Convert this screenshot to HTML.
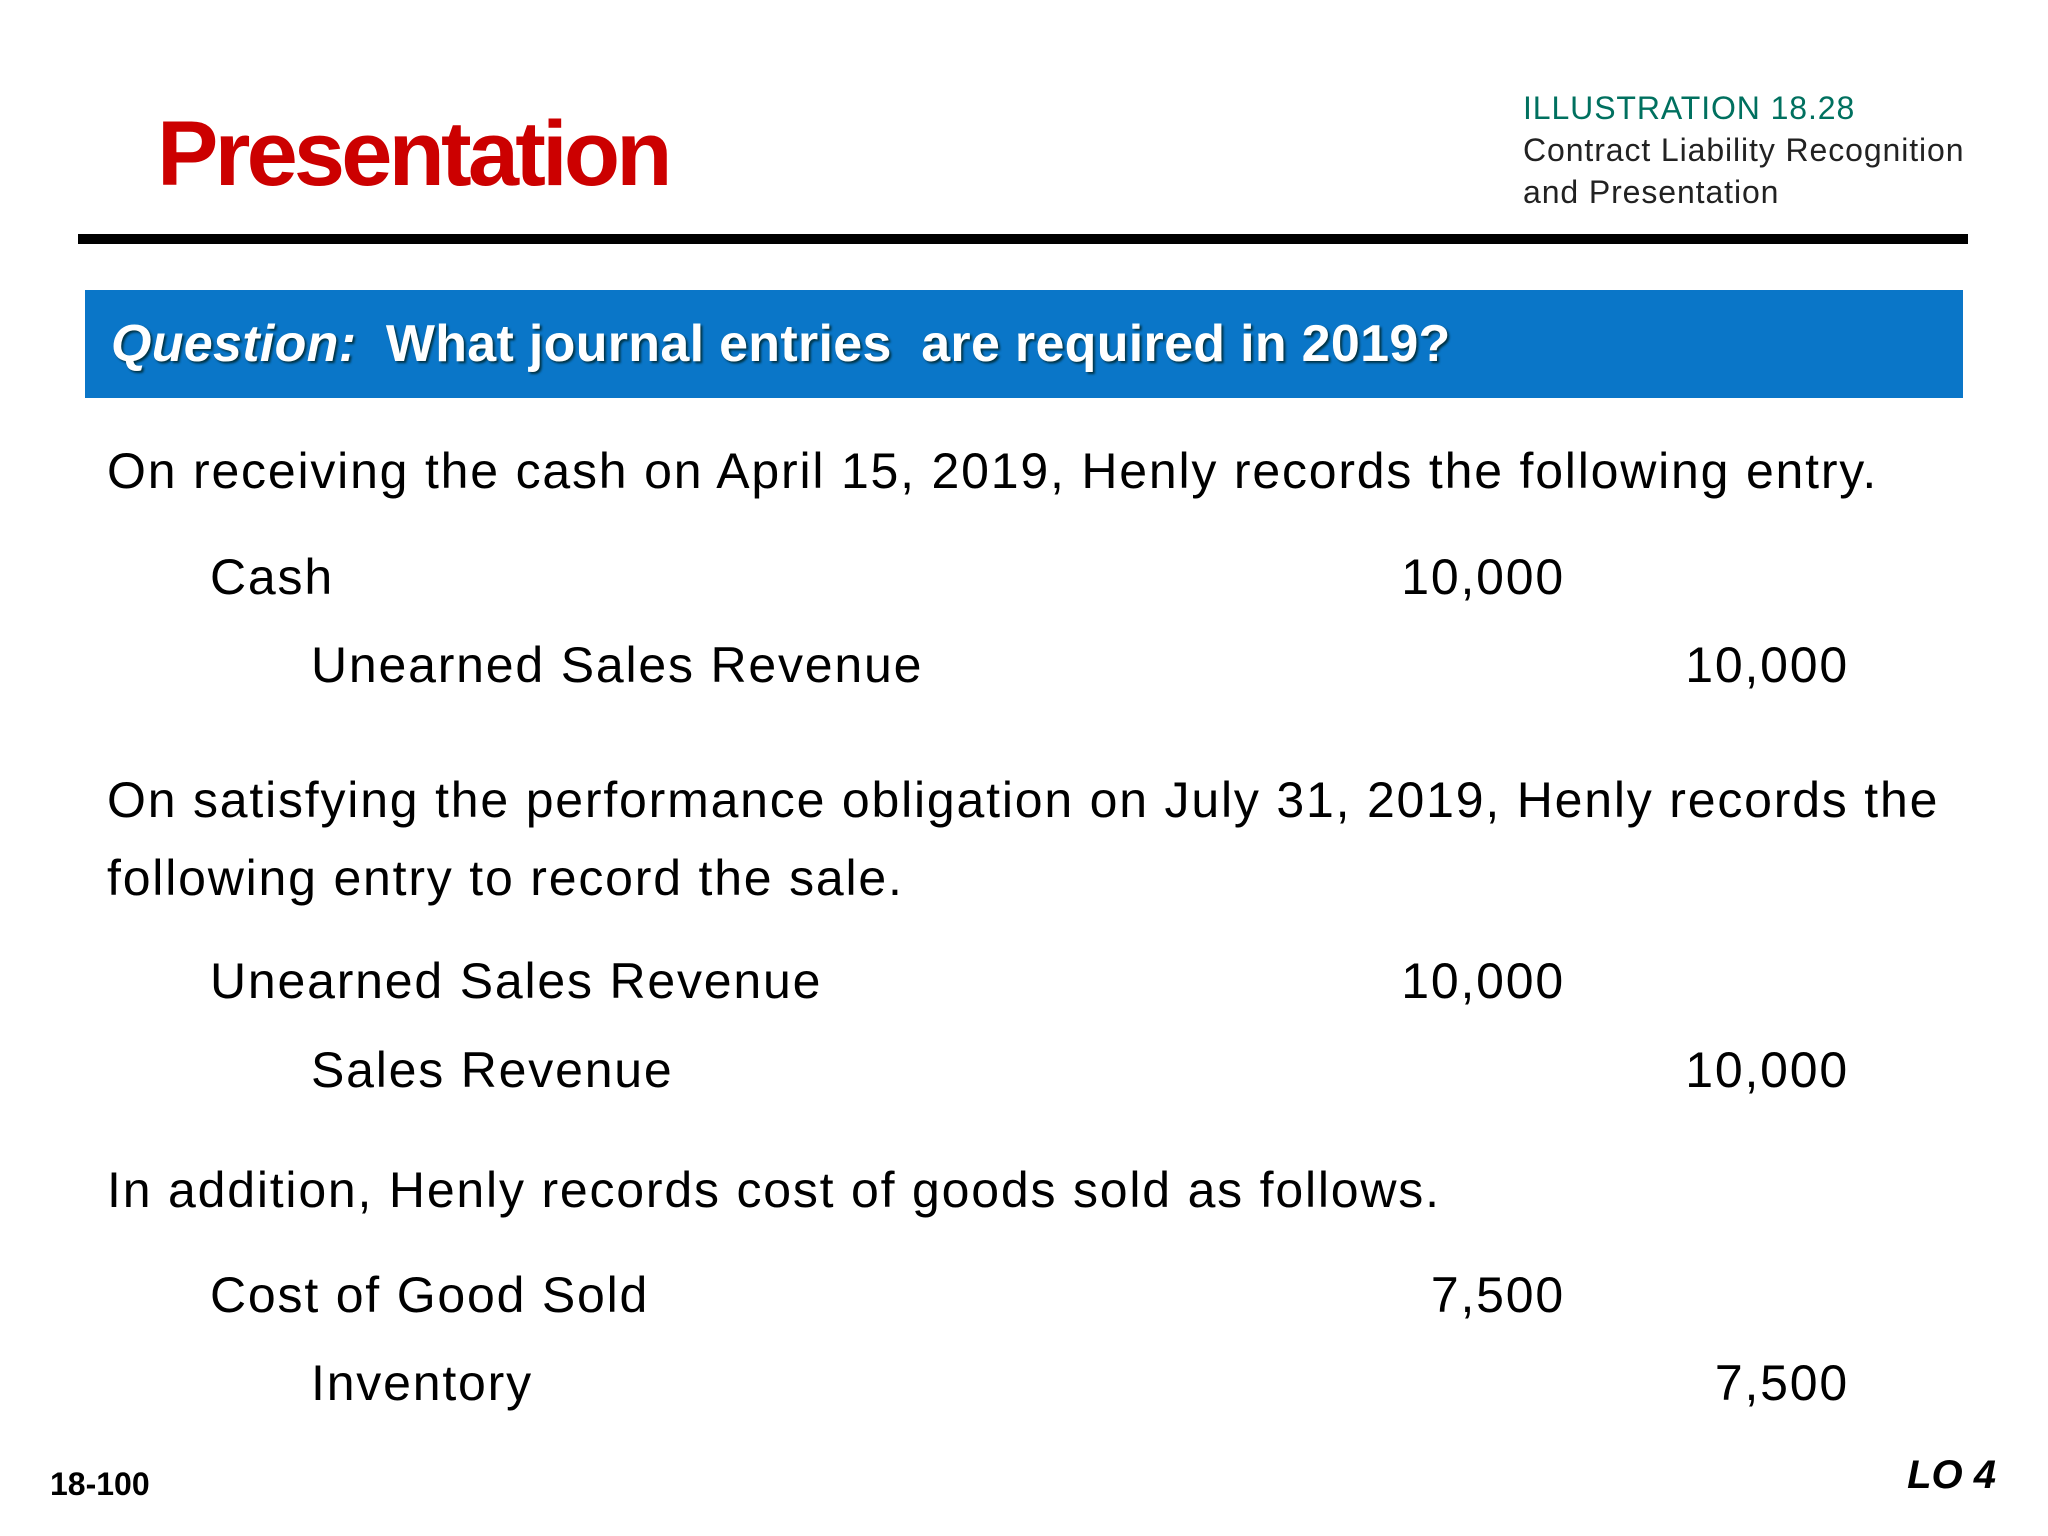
<!DOCTYPE html>
<html><head><meta charset="utf-8"><style>
body{margin:0;width:2048px;height:1536px;background:#fff;position:relative;overflow:hidden;font-family:"Liberation Sans",sans-serif;}
div{position:absolute;white-space:nowrap;line-height:1;}
.b{font-size:50px;color:#000;letter-spacing:1.8px;}
.r{text-align:right;}
</style></head><body>
<div style="left:157px;top:108px;font-size:92px;font-weight:bold;color:#cc0000;letter-spacing:-3.8px;">Presentation</div>
<div style="left:1523px;top:92px;font-size:32px;color:#00705f;letter-spacing:0.9px;">ILLUSTRATION 18.28</div>
<div style="left:1523px;top:134px;font-size:32px;color:#222;letter-spacing:0.9px;">Contract Liability Recognition</div>
<div style="left:1523px;top:176px;font-size:32px;color:#222;letter-spacing:0.9px;">and Presentation</div>
<div style="left:78px;top:234px;width:1890px;height:10px;background:#000;"></div>
<div style="left:85px;top:290px;width:1878px;height:108px;background:#0a76c8;"></div>
<div style="left:111px;top:318px;font-size:52px;font-weight:bold;color:#fff;letter-spacing:0.3px;text-shadow:2px 2px 2px #034;"><i>Question:</i>&nbsp; What journal entries&nbsp; are required in 2019?</div>

<div class="b" style="left:107px;top:446px;">On receiving the cash on April 15, 2019, Henly records the following entry.</div>
<div class="b" style="left:210px;top:552px;">Cash</div>
<div class="b r" style="right:483px;top:552px;">10,000</div>
<div class="b" style="left:311px;top:640px;">Unearned Sales Revenue</div>
<div class="b r" style="right:199px;top:640px;">10,000</div>

<div class="b" style="left:107px;top:775px;">On satisfying the performance obligation on July 31, 2019, Henly records the</div>
<div class="b" style="left:107px;top:853px;">following entry to record the sale.</div>
<div class="b" style="left:210px;top:956px;">Unearned Sales Revenue</div>
<div class="b r" style="right:483px;top:956px;">10,000</div>
<div class="b" style="left:311px;top:1045px;">Sales Revenue</div>
<div class="b r" style="right:199px;top:1045px;">10,000</div>

<div class="b" style="left:107px;top:1165px;">In addition, Henly records cost of goods sold as follows.</div>
<div class="b" style="left:210px;top:1270px;">Cost of Good Sold</div>
<div class="b r" style="right:483px;top:1270px;">7,500</div>
<div class="b" style="left:311px;top:1358px;">Inventory</div>
<div class="b r" style="right:199px;top:1358px;">7,500</div>

<div style="left:50px;top:1468px;font-size:32px;font-weight:bold;">18-100</div>
<div style="right:52px;top:1455px;font-size:40px;font-weight:bold;font-style:italic;">LO 4</div>
</body></html>
